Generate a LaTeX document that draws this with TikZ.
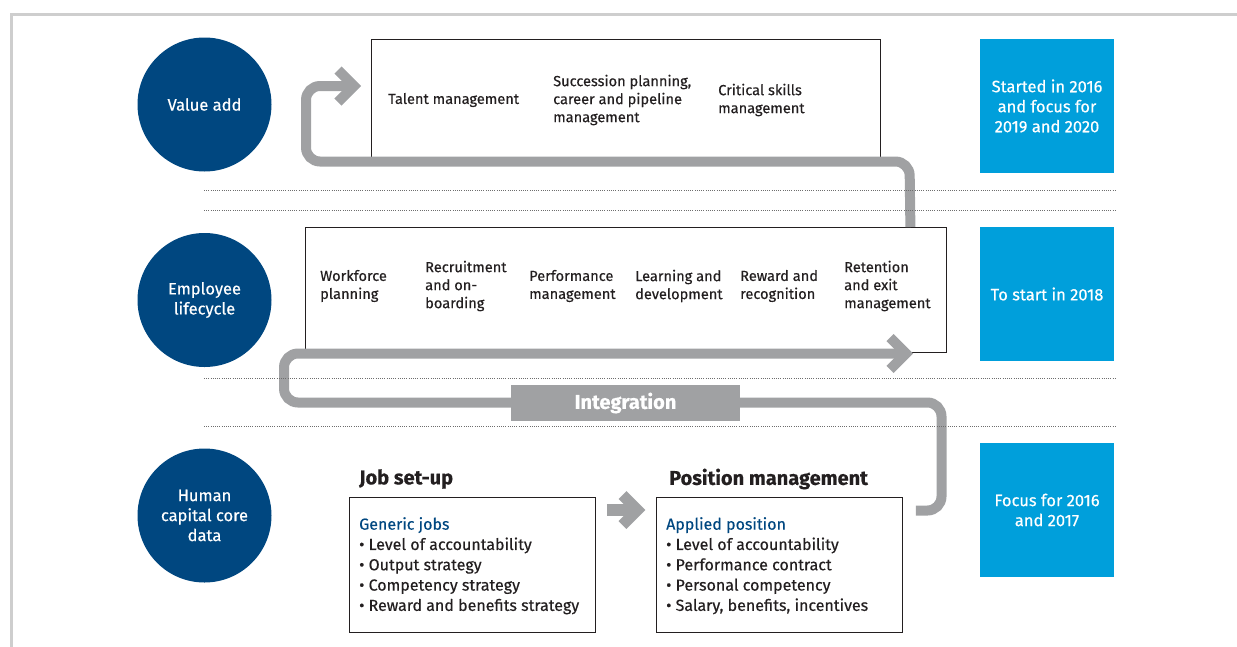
\documentclass[tikz,border=0pt]{standalone}
\usepackage{fontspec}
\setmainfont{Fira Sans}[FakeBold=0.4]
\usetikzlibrary{calc}
\definecolor{navy}{RGB}{0,71,128}
\definecolor{sky}{RGB}{0,159,219}
\definecolor{flowgray}{RGB}{160,161,163}
\definecolor{framegray}{RGB}{206,206,206}
\definecolor{rulegray}{RGB}{110,110,110}
\definecolor{ink}{RGB}{35,31,32}
\begin{document}
\begin{tikzpicture}[x=1pt,y=-1pt,
  phase/.style={circle, fill=navy, minimum size=134pt, inner sep=0pt, text=white,
    align=center, font=\fontsize{16.5}{20}\selectfont},
  timing/.style={rectangle, fill=sky, minimum size=134pt, inner sep=0pt, text=white,
    align=center, font=\fontsize{16.5}{20}\selectfont},
  stagebox/.style={draw=ink, line width=0.9pt, anchor=north west, inner sep=0pt},
  item/.style={anchor=west, align=left, inner sep=0pt, text=ink,
    font=\fontsize{14.6}{18}\selectfont},
  listing/.style={anchor=north west, align=left, inner sep=0pt, text=ink,
    font=\fontsize{16}{20.3}\selectfont},
  heading/.style={anchor=west, inner sep=0pt, text=ink,
    font=\fontsize{20}{24}\selectfont\bfseries},
  flow/.style={draw=flowgray, line width=10pt, rounded corners=14pt},
  chevron/.style={draw=flowgray, line width=10pt, line join=miter, miter limit=10},
  divider/.style={draw=rulegray, line width=0.8pt, dash pattern=on 0.8pt off 1.4pt}
]
\useasboundingbox (0,0) rectangle (1237,646);

% outer frame
\draw[framegray, line width=3pt] (11.5,660) -- (11.5,14.5) -- (1250,14.5);

% phases
\node[phase] (value) at (204.5,104.5) {Value add};
\node[phase] (life) at (204.5,300) {Employee\\lifecycle};
\node[phase] (core) at (204.5,515.5) {Human\\capital core\\data};

% timing boxes
\node[timing] (t1) at (1047,106) {Started in 2016\\and focus for\\2019 and 2020};
\node[timing] (t2) at (1047,294) {To start in 2018};
\node[timing] (t3) at (1047,510) {Focus for 2016\\and 2017};

% stage boxes (outlines only)
\node[stagebox, minimum width=509pt, minimum height=118pt] (talent) at (371,39) {};
\node[stagebox, minimum width=641pt, minimum height=125pt] (cycle) at (305,227) {};
\node[stagebox, minimum width=246pt, minimum height=135pt] (jobs) at (349,497) {};
\node[stagebox, minimum width=246pt, minimum height=135pt] (posn) at (656,497) {};

% flow from the lifecycle up to value add
\coordinate (upstart) at ($(cycle.north east)+(-36.5,0)$);
\coordinate (uptip) at (354,86);
\draw[flow] (upstart) -- (909.5,161.5) -- (306,161.5) -- (306,86) -- ($(uptip)+(-2,0)$);
\draw[chevron] ($(uptip)+(-16,-16)$) -- (uptip) -- ($(uptip)+(-16,16)$);

% integration flow from core data back to the lifecycle
\coordinate (instart) at ($(posn.north east)+(13,13.5)$);
\coordinate (intip) at (906,353.5);
\draw[flow] (instart) -- (941.5,510.5) -- (941.5,402.5) -- (284,402.5) -- (284,353.5) -- ($(intip)+(-2,0)$);
\draw[chevron] ($(intip)+(-16,-16)$) -- (intip) -- ($(intip)+(-16,16)$);
\node[fill=flowgray, minimum width=229pt, minimum height=36pt, inner sep=0pt, text=white,
  font=\fontsize{20}{24}\selectfont\bfseries] (integ) at (625.5,403) {Integration};

% job set-up to position management
\coordinate (jtip) at (637.5,510);
\draw[draw=flowgray, line width=12pt] ($(jobs.north east)+(11,13)$) -- ($(jtip)+(-3,0)$);
\draw[chevron, line width=11pt] ($(jtip)+(-15,-15)$) -- (jtip) -- ($(jtip)+(-15,15)$);

% dividers
\foreach \yy in {190.5,210.5,378.5,426.5}
  \draw[divider] (204,\yy) -- (1115,\yy);

% value add items
\node[item] (vi1) at (388,100) {Talent management};
\node[item] (vi2) at (553,100) {Succession planning,\\career and pipeline\\management};
\node[item] (vi3) at (718,100) {Critical skills\\management};

% lifecycle items
\node[item] (li1) at (320,286) {Workforce\\planning};
\node[item] (li2) at (425,286) {Recruitment\\and on-\\boarding};
\node[item] (li3) at (529,286) {Performance\\management};
\node[item] (li4) at (635,286) {Learning and\\development};
\node[item] (li5) at (740,286) {Reward and\\recognition};
\node[item] (li6) at (844,286) {Retention\\and exit\\management};

% core data
\node[heading] (jh) at (359,479) {Job set-up};
\node[heading] (ph) at (669,479) {Position management};
\node[listing] (jl) at (359,517) {\textcolor{navy}{Generic jobs}\\
  \textbullet\ Level of accountability\\
  \textbullet\ Output strategy\\
  \textbullet\ Competency strategy\\
  \textbullet\ Reward and benefits strategy};
\node[listing] (pl) at (666,517) {\textcolor{navy}{Applied position}\\
  \textbullet\ Level of accountability\\
  \textbullet\ Performance contract\\
  \textbullet\ Personal competency\\
  \textbullet\ Salary, benefits, incentives};
\end{tikzpicture}
\end{document}
